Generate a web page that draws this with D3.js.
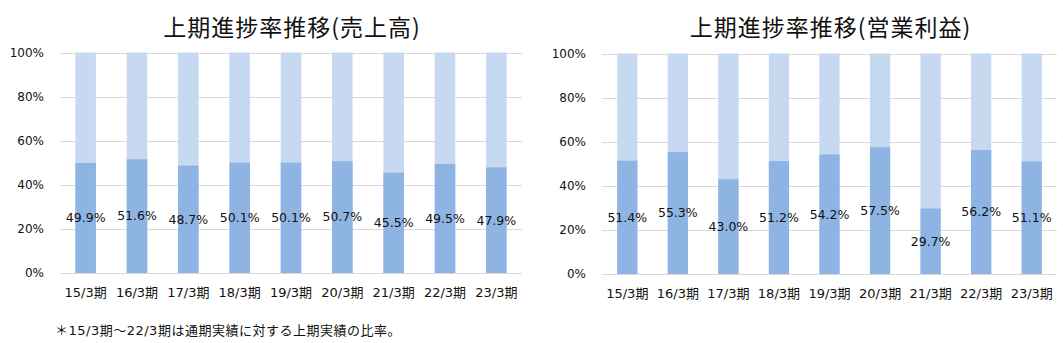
<!DOCTYPE html>
<html>
<head>
<meta charset="utf-8">
<script src="https://cdn.jsdelivr.net/npm/d3@7"></script>
<style>
  body { margin: 0; background: #fff; }
  svg text { font-family: "DejaVu Sans", "Noto Sans CJK JP", sans-serif; fill: #111; }
  .grid line { stroke: #d9d9d9; stroke-width: 1; }
</style>
</head>
<body>
<svg id="canvas" width="1063" height="343"></svg>
<script>
const periods = ["15/3期", "16/3期", "17/3期", "18/3期", "19/3期", "20/3期", "21/3期", "22/3期", "23/3期"];
const salesRate = [49.9, 51.6, 48.7, 50.1, 50.1, 50.7, 45.5, 49.5, 47.9];
const profitRate = [51.4, 55.3, 43.0, 51.2, 54.2, 57.5, 29.7, 56.2, 51.1];
const yTicks = [0, 20, 40, 60, 80, 100];
const titles = ["上期進捗率推移(売上高)", "上期進捗率推移(営業利益)"];
const footnote = "＊15/3期～22/3期は通期実績に対する上期実績の比率。";

const darkColor = "#8eb4e3",
    lightColor = "#c6d9f1";

const svg = d3.select("#canvas");

function drawChart(box, title, values) {
    const x = d3.scaleBand().domain(periods).range([box.left, box.right]).paddingInner(0.6).paddingOuter(0.3);
    const y = d3.scaleLinear().domain([0, 100]).range([box.bottom, box.top]);
    const g = svg.append("g");

    // gridlines
    g.append("g").attr("class", "grid")
        .selectAll("line").data(yTicks).enter().append("line")
        .attr("x1", box.left).attr("x2", box.right)
        .attr("y1", d => Math.round(y(d)) + 0.5).attr("y2", d => Math.round(y(d)) + 0.5);

    // y axis labels
    const yAxis = d3.axisLeft(y).tickValues(yTicks).tickFormat(d => d + "%").tickSize(0).tickPadding(16);
    g.append("g").attr("transform", "translate(" + box.left + ",0)").call(yAxis)
        .call(a => a.select(".domain").remove())
        .selectAll("text").style("font-size", "12px").attr("fill", "#111");

    // background bars (100%)
    g.selectAll(".bg").data(periods).enter().append("rect")
        .attr("x", d => x(d)).attr("width", x.bandwidth())
        .attr("y", y(100)).attr("height", y(0) - y(100))
        .attr("fill", lightColor);

    // rate bars
    g.selectAll(".rate").data(values).enter().append("rect")
        .attr("x", (d, i) => x(periods[i])).attr("width", x.bandwidth())
        .attr("y", d => y(d)).attr("height", d => y(0) - y(d))
        .attr("fill", darkColor);

    // data labels
    g.selectAll(".lbl").data(values).enter().append("text")
        .attr("x", (d, i) => x(periods[i]) + x.bandwidth() / 2)
        .attr("y", d => y(d / 2))
        .attr("dy", "0.35em")
        .attr("text-anchor", "middle")
        .style("font-size", "12.5px")
        .text(d => d.toFixed(1) + "%");

    // x axis labels
    const xAxis = d3.axisBottom(x).tickSize(0).tickPadding(15);
    g.append("g").attr("transform", "translate(0," + box.bottom + ")").call(xAxis)
        .call(a => a.select(".domain").remove())
        .selectAll("text").style("font-size", "13px").attr("fill", "#111");

    // title
    g.append("text")
        .attr("x", (box.left + box.right) / 2 + 1).attr("y", 36)
        .attr("text-anchor", "middle")
        .style("font-family", "'Noto Sans CJK JP', sans-serif")
        .style("font-size", "23px").style("font-weight", 400)
        .style("letter-spacing", "1px")
        .text(title);
}

drawChart({left: 60, right: 522, top: 52.5, bottom: 273}, titles[0], salesRate);
drawChart({left: 602, right: 1057, top: 53.5, bottom: 274}, titles[1], profitRate);

svg.append("text")
    .attr("x", 55).attr("y", 335)
    .style("font-size", "13px")
    .style("letter-spacing", "0.5px")
    .text(footnote);
</script>
</body>
</html>
